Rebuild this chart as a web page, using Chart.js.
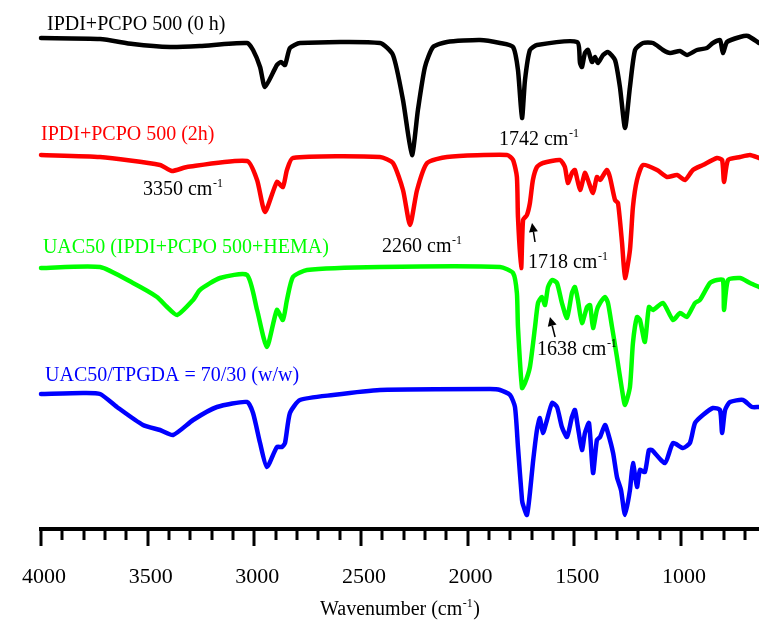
<!DOCTYPE html>
<html>
<head>
<meta charset="utf-8">
<script src="https://cdn.jsdelivr.net/npm/chart.js@4.4.1/dist/chart.umd.min.js"></script>
<style>
html,body{margin:0;padding:0;background:#fff;}
#wrap{width:759px;height:626px;}
</style>
</head>
<body>
<div id="wrap"><canvas id="c" width="759" height="626"></canvas></div>
<script>
// Wavenumber (cm-1) and offset transmittance (a.u.) for each spectrum
const wnBlack = [4000,3723,3569,3395,3255,3034,3006,2973,2950,2894,2875,2856,2833,2786,2411,2350,2303,2261,2233,2200,2162,2097,1942,1848,1787,1764,1745,1731,1708,1675,1487,1473,1464,1450,1436,1417,1403,1389,1365,1342,1309,1286,1262,1239,1215,1178,1131,1084,1051,1004,972,925,878,850,817,803,784,723,686,634];
const tBlack  = [491,490,485,482,483,486,479,462,442,464,467,464,481,486,486,474,429,374,419,462,482,487,489,486,482,459,411,449,479,484,487,466,462,476,479,467,472,466,474,477,469,442,401,442,479,486,486,479,476,478,474,479,481,486,489,476,487,492,493,486];

const wnRed = [4000,3723,3442,3386,3316,3034,2987,2950,2894,2866,2847,2819,2411,2350,2303,2270,2237,2190,2097,1815,1787,1769,1764,1749,1740,1722,1708,1694,1675,1647,1567,1544,1530,1511,1497,1473,1450,1436,1412,1394,1379,1347,1333,1309,1295,1276,1262,1239,1225,1206,1178,1112,1065,1018,981,944,897,831,807,798,779,723,676,634];
const tRed  = [374,372,364,358,362,368,349,317,347,342,359,371,372,366,339,304,339,366,372,374,369,352,312,261,309,314,326,349,362,366,369,362,346,356,359,339,356,349,336,352,349,359,352,329,326,286,251,279,322,349,364,359,352,354,349,359,364,371,369,347,369,372,374,371];

const wnGreen = [4000,3723,3569,3456,3409,3362,3287,3255,3161,3034,2987,2941,2894,2866,2847,2819,2753,2411,1848,1787,1769,1764,1745,1731,1708,1684,1670,1652,1637,1623,1604,1581,1558,1534,1511,1497,1483,1464,1440,1426,1412,1394,1379,1356,1342,1323,1300,1276,1262,1239,1225,1206,1192,1169,1150,1131,1084,1037,1004,972,934,911,864,831,803,798,779,723,676,634];
const tGreen  = [261,262,246,232,222,214,229,239,251,254,219,182,219,209,229,252,259,262,262,256,236,202,141,146,162,202,226,232,224,242,249,246,226,211,236,242,229,206,222,224,201,219,226,232,226,202,172,139,124,142,186,212,209,187,222,219,226,209,216,212,226,229,246,249,249,219,249,251,246,242];

const wnBlue = [4000,3803,3723,3644,3522,3442,3381,3287,3175,3034,3006,2973,2941,2894,2870,2856,2833,2786,2631,2411,1895,1848,1801,1778,1764,1745,1740,1722,1708,1694,1675,1661,1647,1628,1604,1581,1558,1534,1511,1497,1483,1464,1450,1431,1412,1394,1379,1356,1342,1318,1300,1281,1262,1239,1225,1206,1192,1169,1150,1136,1075,1037,990,958,934,897,850,817,807,793,770,709,667,634];
const tBlue  = [135,136,135,122,104,99,94,109,122,127,116,86,62,82,82,86,116,129,134,139,140,139,134,122,82,29,24,14,36,66,99,111,96,109,126,122,102,92,112,119,102,79,96,106,56,89,92,104,96,76,52,39,14,39,66,42,59,57,79,79,66,86,81,86,106,114,121,119,96,119,127,129,122,122];

const seriesNames = ['IPDI+PCPO 500 (0 h)','IPDI+PCPO 500 (2h)','UAC50 (IPDI+PCPO 500+HEMA)','UAC50/TPGDA = 70/30 (w/w)'];
const seriesColors = ['#000000','#ff0000','#00ff00','#0000ff'];
const majorTicks = [4000,3500,3000,2500,2000,1500,1000];

function pts(xs, ys){ return xs.map((x,i)=>({x:x,y:ys[i]})); }

// text annotations placed in data coordinates (wavenumber, height)
const seriesLabelPos = [[3972,504],[4000,394],[3991,281],[3981,153]];
const peakLabels = [
  ['1742 cm','-1',1853,389],
  ['3350 cm','-1',3522,339],
  ['2260 cm','-1',2401,282],
  ['1718 cm','-1',1717,266],
  ['1638 cm','-1',1675,179]
];
const arrows = [
  [1684,287,1698,306],
  [1590,192,1614,212]
];

const SERIF = '"Liberation Serif","Times New Roman",serif';

function drawSup(ctx, x, y, main, sup, size, color){
  ctx.fillStyle = color;
  ctx.textBaseline = 'middle';
  ctx.textAlign = 'left';
  ctx.font = size + 'px ' + SERIF;
  ctx.fillText(main, x, y);
  const w = ctx.measureText(main).width;
  ctx.font = Math.round(size*0.62) + 'px ' + SERIF;
  ctx.fillText(sup, x + w + 0.5, y - size*0.32);
}

const decor = {
  id: 'decor',
  afterDraw(chart){
    const ctx = chart.ctx, xs = chart.scales.x, ys = chart.scales.y;
    ctx.save();
    // ticks
    ctx.strokeStyle = '#000';
    ctx.lineWidth = 3;
    ctx.lineCap = 'butt';
    xs.ticks.forEach(t => {
      const px = Math.round(xs.getPixelForValue(t.value));
      const len = (t.value % 500 === 0) ? 17 : 11;
      ctx.beginPath();
      ctx.moveTo(px, xs.top);
      ctx.lineTo(px, xs.top + len);
      ctx.stroke();
    });
    // series labels
    ctx.textBaseline = 'middle';
    ctx.textAlign = 'left';
    ctx.font = '20px ' + SERIF;
    seriesNames.forEach((n,i) => {
      ctx.fillStyle = seriesColors[i];
      ctx.fillText(n, xs.getPixelForValue(seriesLabelPos[i][0]), ys.getPixelForValue(seriesLabelPos[i][1]));
    });
    // peak labels
    peakLabels.forEach(p => {
      drawSup(ctx, xs.getPixelForValue(p[2]), ys.getPixelForValue(p[3]), p[0], p[1], 20, '#000');
    });
    // arrows
    arrows.forEach(a => {
      const x1 = xs.getPixelForValue(a[0]), y1 = ys.getPixelForValue(a[1]);
      const x2 = xs.getPixelForValue(a[2]), y2 = ys.getPixelForValue(a[3]);
      ctx.strokeStyle = '#000'; ctx.fillStyle = '#000'; ctx.lineWidth = 1.5;
      const ang = Math.atan2(y2-y1, x2-x1);
      const hl = 9, hw = 4.5;
      const bx = x2 - hl*Math.cos(ang), by = y2 - hl*Math.sin(ang);
      ctx.beginPath(); ctx.moveTo(x1,y1); ctx.lineTo(bx,by); ctx.stroke();
      ctx.beginPath();
      ctx.moveTo(x2,y2);
      ctx.lineTo(bx + hw*Math.sin(ang), by - hw*Math.cos(ang));
      ctx.lineTo(bx - hw*Math.sin(ang), by + hw*Math.cos(ang));
      ctx.closePath(); ctx.fill();
    });
    // axis title
    const cx = (xs.left + xs.right)/2;
    ctx.font = '20px ' + SERIF;
    const main = 'Wavenumber (cm', sup = '-1', close = ')';
    const w1 = ctx.measureText(main).width;
    ctx.font = '12px ' + SERIF;
    const w2 = ctx.measureText(sup).width;
    ctx.font = '20px ' + SERIF;
    const w3 = ctx.measureText(close).width;
    const tot = w1 + w2 + w3 + 1;
    const tx = cx - tot/2, ty = 610;
    ctx.fillStyle = '#000';
    ctx.fillText(main, tx, ty);
    ctx.font = '12px ' + SERIF;
    ctx.fillText(sup, tx + w1 + 0.5, ty - 6.5);
    ctx.font = '20px ' + SERIF;
    ctx.fillText(close, tx + w1 + w2 + 1, ty);
    ctx.restore();
  }
};

const datasets = [
  {data: pts(wnBlack, tBlack)},
  {data: pts(wnRed, tRed)},
  {data: pts(wnGreen, tGreen)},
  {data: pts(wnBlue, tBlue)}
].map((d,i) => Object.assign(d, {
  label: seriesNames[i],
  borderColor: seriesColors[i],
  backgroundColor: seriesColors[i],
  borderWidth: 4.5,
  pointRadius: 0,
  tension: 0.2,
  fill: false,
  clip: false,
  borderJoinStyle: 'round',
  borderCapStyle: 'round'
}));

new Chart(document.getElementById('c'), {
  type: 'line',
  data: {datasets},
  options: {
    responsive: false,
    animation: false,
    devicePixelRatio: 1,
    layout: {padding: {left: 41, right: 0, top: 0, bottom: 0}},
    plugins: {legend: {display: false}, tooltip: {enabled: false}},
    scales: {
      x: {
        type: 'linear',
        reverse: true,
        min: 634,
        max: 4000,
        grid: {display: true, drawOnChartArea: false, drawTicks: false},
        border: {display: true, color: '#000', width: 4},
        ticks: {
          stepSize: 100,
          includeBounds: false,
          autoSkip: false,
          maxRotation: 0,
          padding: 35,
          labelOffset: 3,
          color: '#000',
          font: {family: SERIF, size: 22},
          callback: v => majorTicks.includes(v) ? String(v) : ''
        },
        afterFit: s => { s.height = 97; s.paddingLeft = 0; s.paddingRight = 0; }
      },
      y: {
        display: false,
        min: 0,
        max: 529
      }
    }
  },
  plugins: [decor]
});
</script>
</body>
</html>
